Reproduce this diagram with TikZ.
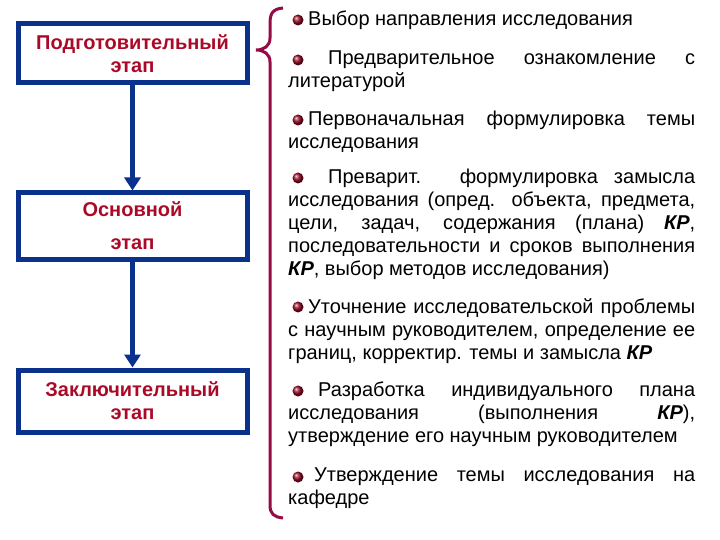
\documentclass[tikz,border=0pt]{standalone}
\usepackage{fontspec}
\setmainfont{Liberation Sans}
\usetikzlibrary{arrows.meta}
\definecolor{bx}{RGB}{10,50,140}
\definecolor{rd}{RGB}{170,10,40}
\definecolor{br}{RGB}{150,10,70}
\tikzset{
 stage/.style={draw=bx,line width=5pt,minimum width=229pt,align=center,text=rd,font=\fontsize{20}{23}\selectfont\bfseries,inner sep=0pt},
 para/.style={anchor=north west,text width=407pt,align=justify,inner sep=0pt,font=\fontsize{20}{23}\selectfont},
 flow/.style={bx,line width=5pt,-{Triangle[width=16pt,length=13pt]}},
 ball/.style={circle,inner sep=0pt,minimum size=11pt,ball color=rd!90!black}
}
\begin{document}
\begin{tikzpicture}[x=1pt,y=-1pt]
\useasboundingbox[fill=white] (0,0) rectangle (720,540);
\node[stage,minimum height=59pt] (s1) at (132.5,53.5) {Подготовительный\\этап};
\node[stage,minimum height=66pt,font=\fontsize{20}{33}\selectfont\bfseries] (s2) at (132.5,226) {Основной\\этап};
\node[stage,minimum height=62pt] (s3) at (132.5,401) {Заключительный\\этап};
\draw[flow] (s1.south) -- (s2.north);
\draw[flow] (s2.south) -- (s3.north);
\draw[br,line width=3pt] (283,8) .. controls (272,9) and (270,14) .. (270,24) -- (270,38) .. controls (270,46) and (264,50) .. (256,50) .. controls (264,50) and (270,54) .. (270,62) -- (270,505) .. controls (270,514) and (274,517) .. (283,518);
\node[para] (p1) at (288,11) {\hspace*{20pt}Выбор направления исследования};
\node[para] (p2) at (288,51) {\hspace*{20pt}\hspace{20pt}Предварительное ознакомление с\linebreak литературой};
\node[para] (p3) at (288,111) {\hspace*{20pt}\hspace{0pt}Первоначальная формулировка темы\linebreak исследования};
\node[para] (p4) at (288,169) {\hspace*{20pt}\hspace{20pt}Преварит. формулировка замысла\linebreak исследования (опред. объекта, предмета,\linebreak цели, задач, содержания (плана) \textbf{\itshape КР},\linebreak последовательности и сроков выполнения\linebreak \textbf{\itshape КР}, выбор методов исследования)};
\node[para] (p5) at (288,298) {\hspace*{20pt}Уточнение исследовательской проблемы\linebreak с научным руководителем, определение ее\linebreak границ, корректир. темы и замысла \textbf{\itshape КР}};
\node[para] (p6) at (288,382) {\hspace*{20pt}\hspace{10pt}Разработка индивидуального плана\linebreak исследования (выполнения \textbf{\itshape КР}),\linebreak утверждение его научным руководителем};
\node[para] (p7) at (288,468) {\hspace*{20pt}\hspace{6pt}Утверждение темы исследования на\linebreak кафедре};
\foreach \y/\n in {20/b1,60/b2,120/b3,178/b4,307/b5,391/b6,477/b7} \node[ball] (\n) at (298,\y) {};
\end{tikzpicture}
\end{document}
